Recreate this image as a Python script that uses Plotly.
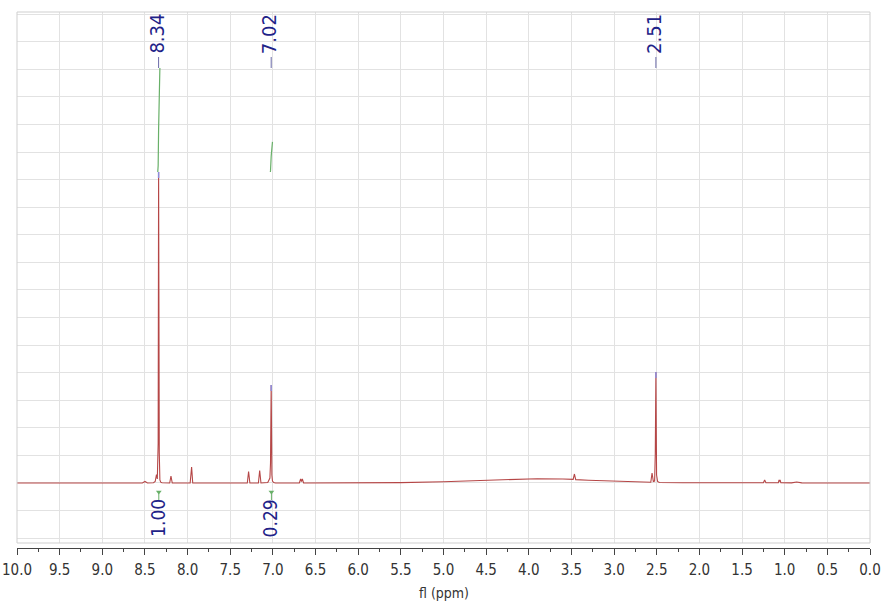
import numpy as np
import plotly.graph_objects as go

# 1H NMR trace: chemical shift (ppm) vs. intensity (arbitrary units, baseline = 0)
shift_ppm = [
    10.00, 8.70, 8.53, 8.50, 8.47, 8.40, 8.38, 8.365, 8.355, 8.345, 8.340, 8.332,
    8.325, 8.315, 8.30, 8.21, 8.195, 8.18, 7.97, 7.953, 7.94, 7.30, 7.285, 7.27,
    7.17, 7.155, 7.14, 7.06, 7.045, 7.035, 7.028, 7.020, 7.012, 7.005, 6.99, 6.97,
    6.69, 6.675, 6.665, 6.655, 6.64, 6.00, 5.50, 5.00, 4.50, 4.20, 3.90, 3.60,
    3.48, 3.465, 3.45, 3.30, 3.00, 2.70, 2.57, 2.555, 2.54, 2.525, 2.517, 2.510,
    2.502, 2.49, 2.47, 2.20, 1.60, 1.25, 1.235, 1.22, 1.075, 1.066, 1.060, 1.054,
    1.045, 0.92, 0.86, 0.80, 0.00,
]
intensity = [
    0.0, 0.0, 0.0, 1.5, 0.0, 0.3, 1.5, 8.5, 4.0, 40.0, 311.0, 30.0,
    3.0, 0.8, 0.2, 0.0, 7.0, 0.0, 0.0, 16.0, 0.0, 0.0, 11.5, 0.0,
    0.0, 12.5, 0.0, 0.5, 4.0, 5.0, 20.0, 98.0, 8.0, 2.0, 0.5, 0.0,
    0.0, 4.0, 1.5, 4.0, 0.0, 0.0, 0.4, 1.3, 2.6, 3.6, 4.3, 4.0,
    3.6, 9.0, 3.4, 2.8, 1.8, 1.0, 0.7, 10.0, 1.5, 2.0, 30.0, 111.0,
    8.0, 1.5, 0.5, 0.3, 0.2, 0.2, 3.0, 0.3, 0.2, 3.0, 1.5, 3.0,
    0.2, 0.1, 1.0, 0.1, 0.0,
]

# Peak picking
peak_ppm = [8.34, 7.02, 2.51]
peak_text = ["8.34", "7.02", "2.51"]

# Integration regions and their integral values
integral_start = [8.35, 7.03]
integral_end = [8.325, 7.005]
integral_value = [1.00, 0.29]
integral_text = ["1.00", "0.29"]

# Display settings
SPEC_COLOR = "#b54646"
LABEL_COLOR = "#1f2388"
INTEGRAL_COLOR = "#68b068"
PICK_COLOR = "#8c8cdc"
LABEL_FONT = "DejaVu Sans Condensed, DejaVu Sans, sans-serif"
INTEGRAL_BASE = 311.0      # level where integral curves start
INTEGRAL_SCALE = 104.0     # curve rise for an integral of 1.00
LABEL_LEVEL = 427.0        # bottom of peak labels
INT_LABEL_LEVEL = -56.0    # bottom of integral labels

x = np.asarray(shift_ppm, dtype=float)
y = np.asarray(intensity, dtype=float)
x_inc, y_inc = x[::-1], y[::-1]

fig = go.Figure()

# spectrum
fig.add_trace(go.Scatter(x=x, y=y, mode="lines",
                         line=dict(color=SPEC_COLOR, width=1.1),
                         hoverinfo="skip", showlegend=False))

# integral curves (cumulative area across each region, scaled to the integral value)
for a, b, val in zip(integral_start, integral_end, integral_value):
    inner = x[(x < a) & (x > b)]
    xs = np.concatenate([[a], inner, [b]])
    ys = np.interp(xs, x_inc, y_inc)
    steps = np.abs(np.diff(xs)) * (ys[1:] + ys[:-1]) / 2.0
    cum = np.concatenate([[0.0], np.cumsum(steps)])
    curve = INTEGRAL_BASE + cum / cum[-1] * val * INTEGRAL_SCALE
    fig.add_trace(go.Scatter(x=xs, y=curve, mode="lines",
                             line=dict(color=INTEGRAL_COLOR, width=1.2),
                             hoverinfo="skip", showlegend=False))
    # small marker under the baseline
    mid = (a + b) / 2.0
    fig.add_trace(go.Scatter(x=[mid, mid], y=[-17, -9], mode="lines",
                             line=dict(color=INTEGRAL_COLOR, width=1),
                             hoverinfo="skip", showlegend=False))
    fig.add_trace(go.Scatter(x=[mid], y=[-9], mode="markers",
                             marker=dict(symbol="triangle-down", size=5, color=INTEGRAL_COLOR),
                             hoverinfo="skip", showlegend=False))

# peak picks: mark at the peak top and a short tick under each label
for p, t in zip(peak_ppm, peak_text):
    top = float(np.interp(p, x_inc, y_inc))
    fig.add_trace(go.Scatter(x=[p, p], y=[top - 6, top], mode="lines",
                             line=dict(color=PICK_COLOR, width=1.5),
                             hoverinfo="skip", showlegend=False))
    fig.add_trace(go.Scatter(x=[p, p], y=[LABEL_LEVEL - 12, LABEL_LEVEL - 1], mode="lines",
                             line=dict(color="#6a6aa8", width=1),
                             hoverinfo="skip", showlegend=False))
    fig.add_annotation(x=p, y=LABEL_LEVEL, text=t, textangle=-90, showarrow=False,
                       xanchor="center", yanchor="bottom", xshift=-2,
                       font=dict(family=LABEL_FONT, size=20, color=LABEL_COLOR))

for a, b, t in zip(integral_start, integral_end, integral_text):
    fig.add_annotation(x=(a + b) / 2.0, y=INT_LABEL_LEVEL, text=t, textangle=-90,
                       showarrow=False, xanchor="center", yanchor="bottom", xshift=-1,
                       font=dict(family=LABEL_FONT, size=19, color=LABEL_COLOR))

plot_h = 605 - 12 - 57
gap = 5.0 / plot_h

# axis title placed below the tick labels
fig.add_annotation(xref="paper", yref="paper", x=0.5, y=-45.0 / plot_h,
                   text="fl (ppm)", showarrow=False, xanchor="center", yanchor="middle",
                   font=dict(family=LABEL_FONT, size=14, color="#333"))

fig.update_layout(
    width=882, height=605,
    margin=dict(l=17, r=12, t=12, b=57, autoexpand=False),
    paper_bgcolor="white", plot_bgcolor="white",
    shapes=[dict(type="rect", xref="paper", yref="paper", x0=0, x1=1, y0=gap, y1=1,
                 line=dict(color="#cfcfcf", width=1), layer="above")],
)

fig.update_xaxes(
    range=[10, 0], anchor="free", position=0, automargin=False,
    tickmode="linear", tick0=0, dtick=0.5, tickformat=".1f",
    ticklabeloverflow="allow", ticklabelstandoff=2,
    ticks="outside", ticklen=6, tickcolor="#444", tickwidth=1,
    minor=dict(dtick=0.25, ticks="outside", ticklen=3, tickcolor="#444", showgrid=False),
    showline=True, linecolor="#444", linewidth=1,
    showgrid=True, gridcolor="#e2e2e2", gridwidth=1, zeroline=False,
    tickfont=dict(family=LABEL_FONT, size=15, color="#333"),
)
fig.update_yaxes(
    range=[-60, 471], domain=[gap, 1], automargin=False,
    tickmode="linear", tick0=-55, dtick=27.57,
    showticklabels=False, ticks="",
    showgrid=True, gridcolor="#e2e2e2", gridwidth=1, zeroline=False, showline=False,
)

fig.write_html("out.html")
